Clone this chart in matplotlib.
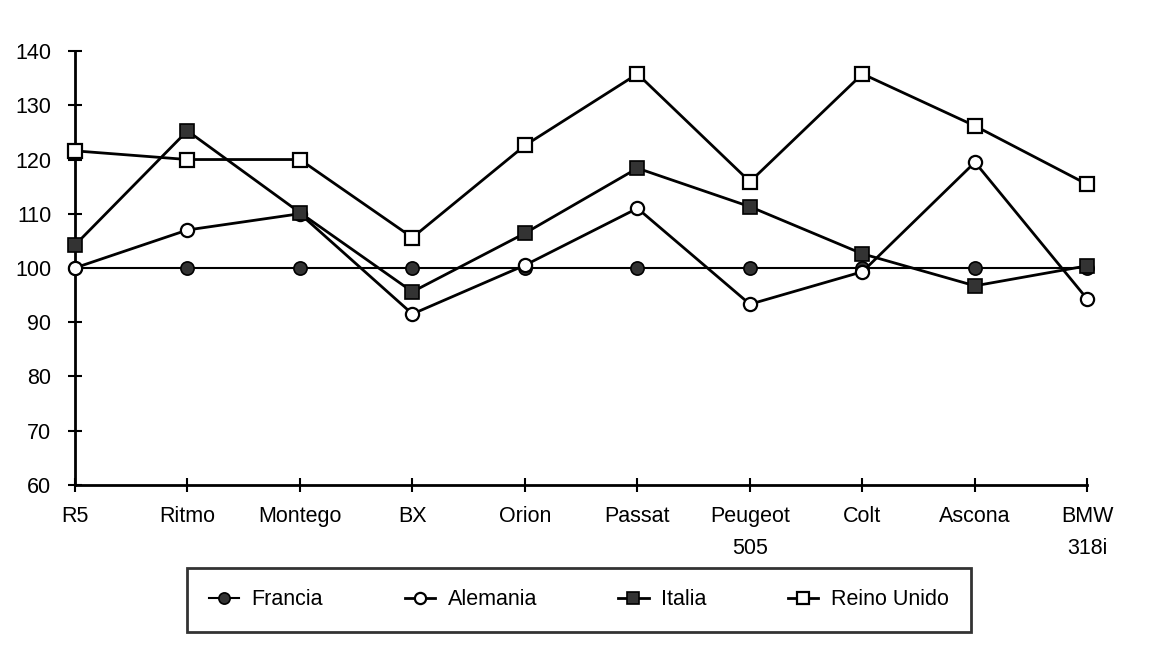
import matplotlib
matplotlib.use("Agg")
import matplotlib.pyplot as plt

plt.rcParams['font.family'] = ['Liberation Sans', 'DejaVu Sans']

# Data
coches = ["R5", "Ritmo", "Montego", "BX", "Orion", "Passat",
          "Peugeot\n505", "Colt", "Ascona", "BMW\n318i"]
francia = [100, 100, 100, 100, 100, 100, 100, 100, 100, 100]
alemania = [100, 107, 110, 91.5, 100.5, 111, 93.3, 99.3, 119.5, 94.2]
italia = [104.2, 125.3, 110.2, 95.6, 106.4, 118.4, 111.3, 102.6, 96.7, 100.4]
reino_unido = [121.6, 120, 120, 105.6, 122.6, 135.8, 115.9, 135.8, 126.2, 115.4]

fig = plt.figure(figsize=(11.52, 6.64), dpi=100)
ax = fig.add_axes([0.065, 0.27, 0.879, 0.653])

x = list(range(len(coches)))
dark = '#333333'

# Series
ax.plot(x, francia, color='black', lw=1.5, marker='o', ms=9.5,
        mfc=dark, mec='black', mew=1.2, label='Francia', zorder=3, clip_on=False)
ax.plot(x, alemania, color='black', lw=2, marker='o', ms=9.5,
        mfc='white', mec='black', mew=1.6, label='Alemania', zorder=4, clip_on=False)
ax.plot(x, italia, color='black', lw=2, marker='s', ms=9.5,
        mfc=dark, mec='black', mew=1.2, label='Italia', zorder=4, clip_on=False)
ax.plot(x, reino_unido, color='black', lw=2, marker='s', ms=9.5,
        mfc='white', mec='black', mew=1.6, label='Reino Unido', zorder=5, clip_on=False)

# Axes styling
ax.set_xlim(0, len(coches) - 1)
ax.set_ylim(60, 140)
ax.set_yticks(range(60, 141, 10))
ax.set_xticks(x)
ax.set_xticklabels(coches, ha='center', linespacing=1.7)
for s in ['top', 'right']:
    ax.spines[s].set_visible(False)
for s in ['left', 'bottom']:
    ax.spines[s].set_linewidth(2)
ax.tick_params(direction='inout', length=10, width=1.5, labelsize=15.5,
               colors='black')
ax.tick_params(axis='x', pad=10)
ax.tick_params(axis='y', pad=12)

# Legend
leg = fig.legend(loc='center', ncol=4, mode='expand',
                 bbox_to_anchor=(0.153, 0.048, 0.699, 0.098),
                 fontsize=15.5, frameon=True, fancybox=False,
                 edgecolor='black', handlelength=1.4, borderpad=1.0,
                 handletextpad=0.6, columnspacing=2.0, markerscale=0.85)
leg.get_frame().set_linewidth(2)

fig.savefig("out.png", dpi=100, facecolor='white')
